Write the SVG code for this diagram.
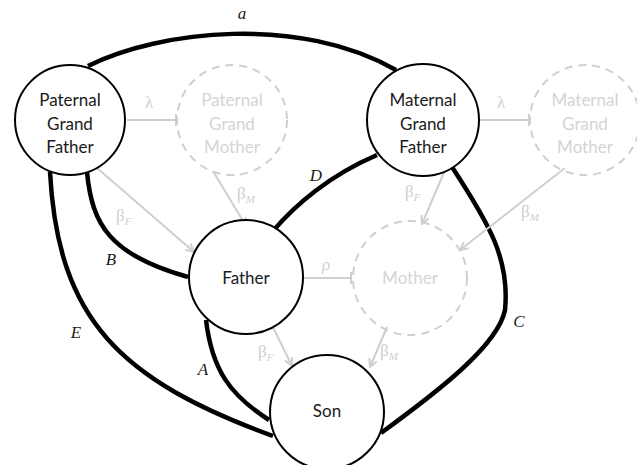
<svg xmlns="http://www.w3.org/2000/svg" width="637" height="465" viewBox="0 0 637 465">
<defs>
<style>
.node{fill:#fff;stroke:#000;stroke-width:2}
.ghost{fill:none;stroke:#cfcfcf;stroke-width:2;stroke-dasharray:8 6}
.lbl{font-family:Lato,"Open Sans",sans-serif;font-size:17px;text-anchor:middle;fill:#1a1a1a}
.glbl{font-family:Lato,"Open Sans",sans-serif;font-size:17px;text-anchor:middle;fill:#d4d4d4}
.thick{fill:none;stroke:#000;stroke-width:4.5}
.thin{fill:none;stroke:#cfcfcf;stroke-width:2}
.it{font-family:"Liberation Serif",serif;font-style:italic;font-size:17px;fill:#1a1a1a;text-anchor:middle}
.gk{font-family:"Liberation Serif",serif;font-size:17px;fill:#cfcfcf}
.sub{font-style:italic;font-size:11px}
</style>
<marker id="arr" viewBox="0 0 10 10" refX="9" refY="5" markerWidth="10" markerHeight="10" markerUnits="userSpaceOnUse" orient="auto">
<path d="M1 1 L9 5 L1 9" fill="none" stroke="#cfcfcf" stroke-width="2"/>
</marker>
<marker id="tee" viewBox="0 0 4 12" refX="2" refY="6" markerWidth="4" markerHeight="12" markerUnits="userSpaceOnUse" orient="auto">
<path d="M2 0 L2 12" stroke="#cfcfcf" stroke-width="2"/>
</marker>
</defs>
<g id="connectors">
<path class="thick" d="M88 66 C160 30 300 15 396 70"/>
<path class="thick" d="M273 231 C295 205 330 175 377 155"/>
<path class="thick" d="M87 172 C92 225 110 255 188 277"/>
<path class="thick" d="M50 172 C58 320 120 380 273 436"/>
<path class="thick" d="M206 320 C212 370 230 395 269 420"/>
<path class="thick" d="M452 167 C490 225 510 260 505 310 C498 345 440 390 381 433"/>
<path class="thin" d="M127 120 L176 120" marker-end="url(#tee)"/>
<path class="thin" d="M480 120 L529 120" marker-end="url(#tee)"/>
<path class="thin" d="M303 278 L351 278" marker-end="url(#tee)"/>
<path class="thin" d="M97 168 L194 252" marker-end="url(#arr)"/>
<path class="thin" d="M213 171 L246 226" marker-end="url(#arr)"/>
<path class="thin" d="M445 170 L422 224" marker-end="url(#arr)"/>
<path class="thin" d="M565 168 L460 250" marker-end="url(#arr)"/>
<path class="thin" d="M272 325 L292 366" marker-end="url(#arr)"/>
<path class="thin" d="M387 327 L370 367" marker-end="url(#arr)"/>
<text class="it" x="242" y="19">a</text>
<text class="it" x="316" y="181">D</text>
<text class="it" x="111" y="265">B</text>
<text class="it" x="76" y="338">E</text>
<text class="it" x="203" y="375">A</text>
<text class="it" x="519" y="327">C</text>
<text class="gk" x="145" y="108">λ</text>
<text class="gk" x="497" y="108">λ</text>
<text class="gk" x="322" y="270" font-style="italic">ρ</text>
<text class="gk" x="116" y="221">β<tspan class="sub" dy="4">F</tspan></text>
<text class="gk" x="237" y="199">β<tspan class="sub" dy="4">M</tspan></text>
<text class="gk" x="405" y="197">β<tspan class="sub" dy="4">F</tspan></text>
<text class="gk" x="521" y="217">β<tspan class="sub" dy="4">M</tspan></text>
<text class="gk" x="258" y="357">β<tspan class="sub" dy="4">F</tspan></text>
<text class="gk" x="380" y="356">β<tspan class="sub" dy="4">M</tspan></text>
</g>
<g id="pgf"><circle class="node" cx="70" cy="120" r="55"/><text class="lbl" x="70" y="106">Paternal</text><text class="lbl" x="70" y="130">Grand</text><text class="lbl" x="70" y="153">Father</text></g>
<g id="pgm"><circle class="ghost" cx="232" cy="120" r="55"/><text class="glbl" x="232" y="106">Paternal</text><text class="glbl" x="232" y="130">Grand</text><text class="glbl" x="232" y="153">Mother</text></g>
<g id="mgf"><circle class="node" cx="423" cy="120" r="56"/><text class="lbl" x="423" y="106">Maternal</text><text class="lbl" x="423" y="130">Grand</text><text class="lbl" x="423" y="153">Father</text></g>
<g id="mgm"><circle class="ghost" cx="585" cy="120" r="55"/><text class="glbl" x="585" y="106">Maternal</text><text class="glbl" x="585" y="130">Grand</text><text class="glbl" x="585" y="153">Mother</text></g>
<g id="father"><circle class="node" cx="246" cy="277" r="57"/><text class="lbl" x="246" y="284">Father</text></g>
<g id="mother"><circle class="ghost" cx="410" cy="278" r="57"/><text class="glbl" x="410" y="284">Mother</text></g>
<g id="son"><circle class="node" cx="327" cy="412" r="57"/><text class="lbl" x="327" y="417">Son</text></g>
</svg>
